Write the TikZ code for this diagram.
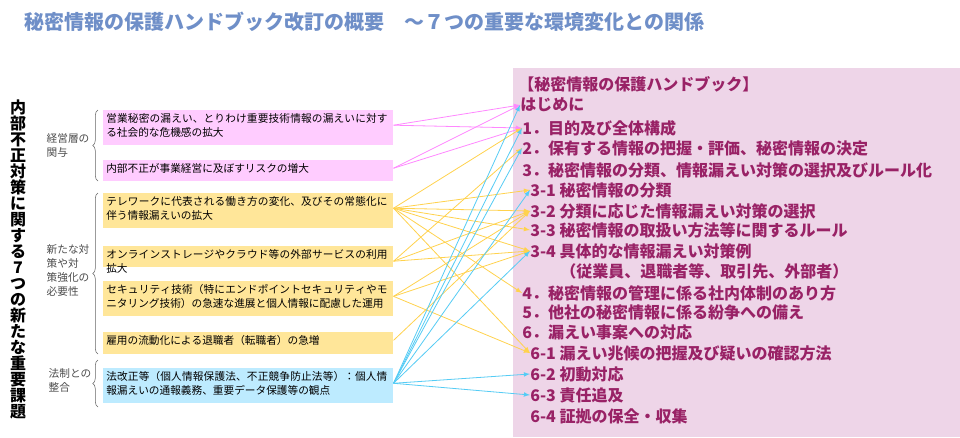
\documentclass[tikz,border=0pt]{standalone}
\usepackage{fontspec}
\setmainfont{Noto Sans CJK JP}
\XeTeXlinebreaklocale "ja"
\XeTeXlinebreakskip=0pt plus 1pt
\usetikzlibrary{decorations.pathreplacing}
\definecolor{pinkbox}{HTML}{FFCCFF}
\definecolor{yellowbox}{HTML}{FFE699}
\definecolor{bluebox}{HTML}{BDEBFF}
\definecolor{panel}{HTML}{EED5E8}
\definecolor{panelText}{HTML}{992266}
\definecolor{titleBlue}{HTML}{6F8FC8}
\definecolor{pinkline}{HTML}{FF88FF}
\definecolor{yellowline}{HTML}{FFD24D}
\definecolor{blueline}{HTML}{55CCF5}
\tikzset{
  issue/.style={anchor=north west, inner sep=2.25pt, text width=213pt, align=left,
    font=\fontsize{8pt}{10.5pt}\selectfont},
  group/.style={align=left, font=\fontsize{8pt}{10.5pt}\selectfont, text=black!70},
  item/.style={anchor=west, inner sep=0pt, text=panelText,
    font=\bfseries\fontsize{12pt}{13pt}\selectfont},
  link/.style={->, >=latex, line width=.6pt}
}
\begin{document}
\begin{tikzpicture}[x=0.75pt, y=-0.75pt]
  \useasboundingbox (0,0) rectangle (960,437);
  \fill[white] (0,0) rectangle (960,437);
  \node[anchor=west, text=titleBlue, font=\bfseries\fontsize{15pt}{17pt}\selectfont] (title) at (20,22)
    {秘密情報の保護ハンドブック改訂の概要\quad ～７つの重要な環境変化との関係};
  % left title
  \node[anchor=north, text width=12pt, align=center, inner sep=0pt,
    font=\bfseries\fontsize{12pt}{12pt}\selectfont] (side) at (18,100)
    {内\\部\\不\\正\\対\\策\\に\\関\\す\\る\\7\\つ\\の\\新\\た\\な\\重\\要\\課\\題};
  % issue boxes
  \fill[pinkbox] (103,110) rectangle (393,145);
  \node[issue] (b1) at (103,110) {営業秘密の漏えい、とりわけ重要技術情報の漏えいに対する社会的な危機感の拡大};
  \fill[pinkbox] (103,160) rectangle (393,181);
  \node[issue] (b2) at (103,160) {内部不正が事業経営に及ぼすリスクの増大};
  \fill[yellowbox] (103,193) rectangle (393,228);
  \node[issue] (b3) at (103,193) {テレワークに代表される働き方の変化、及びその常態化に伴う情報漏えいの拡大};
  \fill[yellowbox] (103,246) rectangle (393,267);
  \node[issue] (b4) at (103,246) {オンラインストレージやクラウド等の外部サービスの利用拡大};
  \fill[yellowbox] (103,281) rectangle (393,316);
  \node[issue] (b5) at (103,281) {セキュリティ技術（特にエンドポイントセキュリティやモニタリング技術）の急速な進展と個人情報に配慮した運用};
  \fill[yellowbox] (103,332) rectangle (393,354);
  \node[issue] (b6) at (103,332) {雇用の流動化による退職者（転職者）の急増};
  \fill[bluebox] (103,368) rectangle (393,403);
  \node[issue] (b7) at (103,368) {法改正等（個人情報保護法、不正競争防止法等）：個人情報漏えいの通報義務、重要データ保護等の観点};
  % braces and groups
  \draw[black!60, decorate, decoration={brace, amplitude=4pt}] (98,181) -- (98,110);
  \node[group, anchor=west] (g1) at (42,145) {経営層の\\関与};
  \draw[black!60, decorate, decoration={brace, amplitude=4pt}] (98,354) -- (98,193);
  \node[group, anchor=west] (g2) at (42,270) {新たな対\\策や対\\策強化の\\必要性};
  \draw[black!60, decorate, decoration={brace, amplitude=4pt}] (98,407) -- (98,360);
  \node[group, anchor=west] (g3) at (44,380) {法制との\\整合};
  % handbook panel
  \fill[panel] (513,68) rectangle (960,437);
  \node[item] (h) at (518,84) {【秘密情報の保護ハンドブック】};
  \node[item] (t0) at (520,105) {はじめに};
  \node[item] (t1) at (522,128) {1．目的及び全体構成};
  \node[item] (t2) at (522,148) {2．保有する情報の把握・評価、秘密情報の決定};
  \node[item] (t3) at (522,170) {3．秘密情報の分類、情報漏えい対策の選択及びルール化};
  \node[item] (t31) at (530,190) {3-1 秘密情報の分類};
  \node[item] (t32) at (530,211) {3-2 分類に応じた情報漏えい対策の選択};
  \node[item] (t33) at (530,230) {3-3 秘密情報の取扱い方法等に関するルール};
  \node[item] (t34) at (530,251) {3-4 具体的な情報漏えい対策例};
  \node[item] (t34b) at (560,271) {（従業員、退職者等、取引先、外部者）};
  \node[item] (t4) at (522,293) {4．秘密情報の管理に係る社内体制のあり方};
  \node[item] (t5) at (522,312) {5．他社の秘密情報に係る紛争への備え};
  \node[item] (t6) at (522,332) {6．漏えい事案への対応};
  \node[item] (t61) at (530,353) {6-1 漏えい兆候の把握及び疑いの確認方法};
  \node[item] (t62) at (530,374) {6-2 初動対応};
  \node[item] (t63) at (530,395) {6-3 責任追及};
  \node[item] (t64) at (530,416) {6-4 証拠の保全・収集};
  % links
  \foreach \s/\t in {b1/t0, b1/t1, b2/t0, b2/t1}
    \draw[link, pinkline] (\s.east) -- (\t.west);
  \foreach \s/\t in {b3/t1, b3/t31, b3/t32, b3/t33, b3/t34, b3/t4, b3/t61,
      b4/t2, b4/t32, b4/t34, b5/t32, b5/t34, b5/t61, b6/t32}
    \draw[link, yellowline] (\s.east) -- (\t.west);
  \foreach \t in {t0, t1, t2, t31, t34, t62, t63}
    \draw[link, blueline] (b7.east) -- (\t.west);
\end{tikzpicture}
\end{document}
